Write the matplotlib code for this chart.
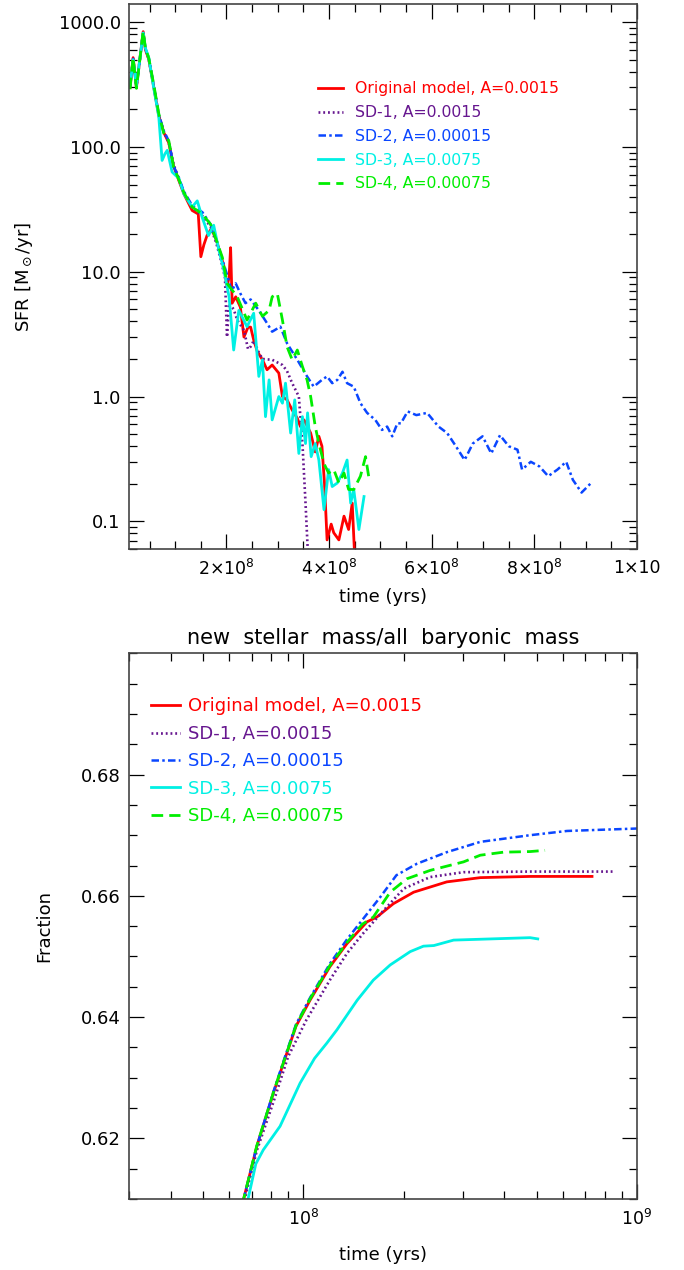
import numpy as np
import matplotlib.pyplot as plt
from matplotlib.ticker import FixedLocator, FixedFormatter, MultipleLocator, LogLocator, NullFormatter

plt.rcParams['font.family'] = ['DejaVu Sans']
plt.rcParams['mathtext.fontset'] = 'dejavusans'

# ---------------- data: SFR vs time (time in 1e8 yr) ----------------
t_red = [0.12, 0.18, 0.245, 0.376, 0.42, 0.485, 0.58, 0.68, 0.78, 0.875, 0.97, 1.07, 1.17, 1.33, 1.45, 1.50,
         1.56, 1.62, 1.70, 1.79, 1.88, 1.95, 2.01, 2.05, 2.08, 2.11, 2.18, 2.27, 2.34, 2.42, 2.47, 2.53, 2.60,
         2.70, 2.79, 2.89, 3.02, 3.09, 3.18, 3.28, 3.38, 3.44, 3.51, 3.64, 3.73, 3.80, 3.86, 3.91, 3.96, 4.04,
         4.09, 4.19, 4.29, 4.38, 4.45, 4.50]
sfr_red = [300, 520, 300, 840, 600, 505, 305, 178, 130, 108, 70, 54, 42, 31, 29, 13.2, 16.5, 19.5, 22, 18.7,
           14, 11, 7.6, 9, 15.6, 5.6, 6.3, 5.2, 3.0, 3.6, 3.6, 2.84, 2.3, 1.97, 1.64, 1.79, 1.54, 1.0, 0.94, 0.78,
           0.67, 0.575, 0.65, 0.51, 0.36, 0.48, 0.40, 0.2, 0.071, 0.095, 0.081, 0.071, 0.11, 0.086, 0.14, 0.05]

t_pur = [0.12, 0.18, 0.245, 0.376, 0.42, 0.485, 0.58, 0.68, 0.78, 0.875, 0.97, 1.07, 1.17, 1.33, 1.53, 1.69,
         1.80, 1.90, 1.97, 2.01, 2.05, 2.14, 2.21, 2.34, 2.42, 2.47, 2.53, 2.62, 2.70, 2.89, 3.09, 3.18, 3.28,
         3.41, 3.48, 3.54, 3.58, 3.61]
sfr_pur = [300, 510, 300, 830, 610, 505, 310, 180, 132, 108, 72, 56, 43, 33, 28, 23, 17, 12, 9, 3.0, 5.6, 5.0,
           4.1, 3.4, 2.4, 2.51, 2.8, 2.3, 2.0, 1.97, 1.79, 1.6, 1.28, 1.0, 0.42, 0.14, 0.063, 0.05]

t_blu = [0.12, 0.18, 0.245, 0.376, 0.42, 0.485, 0.58, 0.68, 0.78, 0.875, 0.97, 1.07, 1.17, 1.33, 1.53, 1.69,
         1.80, 1.92, 2.01, 2.10, 2.18, 2.27, 2.37, 2.47, 2.63, 2.79, 2.89, 3.05, 3.18, 3.38, 3.57, 3.70, 3.86,
         3.96, 4.06, 4.16, 4.26, 4.35, 4.48, 4.61, 4.74, 4.90, 5.03, 5.13, 5.23, 5.33, 5.40, 5.53, 5.70, 5.91,
         6.13, 6.30, 6.47, 6.64, 6.80, 6.99, 7.16, 7.33, 7.50, 7.67, 7.76, 7.93, 8.10, 8.27, 8.45, 8.62, 8.75,
         8.92, 9.09]
sfr_blu = [305, 505, 305, 825, 615, 515, 315, 182, 134, 112, 70, 57, 44, 34, 30, 24, 18, 12.5, 9.5, 7.0, 8.07,
           6.7, 5.6, 6.0, 4.9, 3.87, 3.31, 3.63, 2.67, 1.97, 1.45, 1.2, 1.36, 1.45, 1.28, 1.36, 1.58, 1.28, 1.2,
           0.885, 0.74, 0.65, 0.54, 0.575, 0.48, 0.61, 0.61, 0.76, 0.71, 0.74, 0.575, 0.51, 0.40, 0.31, 0.42,
           0.48, 0.35, 0.49, 0.40, 0.375, 0.26, 0.30, 0.275, 0.23, 0.26, 0.30, 0.215, 0.17, 0.20]

t_cya = [0.12, 0.18, 0.245, 0.376, 0.42, 0.485, 0.58, 0.68, 0.745, 0.80, 0.845, 0.94, 1.07, 1.17, 1.33, 1.43,
         1.53, 1.65, 1.75, 1.85, 1.95, 2.05, 2.14, 2.24, 2.40, 2.53, 2.63, 2.70, 2.76, 2.83, 2.89, 3.02, 3.09,
         3.15, 3.25, 3.33, 3.41, 3.48, 3.54, 3.58, 3.65, 3.73, 3.80, 3.90, 3.99, 4.06, 4.16, 4.26, 4.35, 4.42,
         4.48, 4.58, 4.68]
sfr_cya = [310, 500, 310, 820, 620, 520, 300, 175, 78, 88, 94, 63, 56, 42, 33, 37, 27, 19.5, 23.6, 15, 10.3,
           6.3, 2.36, 4.9, 3.63, 4.65, 1.45, 1.97, 0.69, 1.36, 0.65, 1.0, 0.885, 1.28, 0.51, 0.94, 0.35, 0.69,
           0.42, 0.74, 0.33, 0.42, 0.31, 0.124, 0.26, 0.19, 0.203, 0.244, 0.31, 0.14, 0.18, 0.086, 0.158]

t_grn = [0.12, 0.18, 0.245, 0.376, 0.42, 0.485, 0.58, 0.68, 0.78, 0.875, 0.97, 1.07, 1.17, 1.33, 1.53, 1.69,
         1.80, 1.92, 2.01, 2.21, 2.40, 2.57, 2.70, 2.83, 2.89, 2.99, 3.09, 3.18, 3.28, 3.38, 3.48, 3.57, 3.64,
         3.73, 3.80, 3.90, 3.99, 4.09, 4.19, 4.29, 4.38, 4.48, 4.61, 4.71, 4.77]
sfr_grn = [290, 520, 295, 845, 620, 515, 320, 185, 128, 112, 69, 55, 43, 33, 29, 24, 18, 13, 8.07, 6.3, 4.1,
           5.6, 4.4, 4.9, 6.3, 6.7, 4.1, 2.51, 1.97, 2.36, 1.74, 1.36, 1.0, 0.575, 0.42, 0.29, 0.244, 0.26,
           0.203, 0.244, 0.18, 0.18, 0.23, 0.33, 0.23]

# ---------------- data: mass fraction vs time (time in 1e8 yr) ----------------
tf_red = [0.655, 0.725, 0.813, 0.881, 0.95, 1.047, 1.20, 1.35, 1.55, 1.66, 1.86, 2.14, 2.69, 3.39, 4.78, 7.33]
f_red = [0.609, 0.6187, 0.6275, 0.6332, 0.6385, 0.6428, 0.6483, 0.6521, 0.6557, 0.6565, 0.6587, 0.6606,
         0.6623, 0.6630, 0.6632, 0.6632]

tf_pur = [0.66, 0.725, 0.813, 0.90, 1.02, 1.20, 1.35, 1.51, 1.74, 2.0, 2.4, 3.02, 4.78, 8.47]
f_pur = [0.609, 0.618, 0.626, 0.6335, 0.6395, 0.6461, 0.6505, 0.6538, 0.6576, 0.6612, 0.6631, 0.6639,
         0.6640, 0.6640]

tf_blu = [0.655, 0.725, 0.813, 0.881, 0.95, 1.047, 1.20, 1.35, 1.51, 1.70, 1.90, 2.19, 2.69, 3.39, 4.78, 6.17, 10.0]
f_blu = [0.609, 0.6187, 0.6277, 0.6335, 0.6388, 0.6432, 0.6488, 0.6528, 0.6562, 0.6598, 0.6634, 0.6653,
         0.6672, 0.6689, 0.6700, 0.6707, 0.6711]

tf_cya = [0.676, 0.72, 0.758, 0.851, 0.977, 1.08, 1.175, 1.26, 1.45, 1.62, 1.82, 2.09, 2.29, 2.46, 2.82, 4.78, 5.04]
f_cya = [0.609, 0.6158, 0.6181, 0.6220, 0.6291, 0.6332, 0.6357, 0.6379, 0.6428, 0.6461, 0.6486, 0.6508,
         0.6517, 0.6518, 0.6527, 0.6531, 0.6529]

tf_grn = [0.655, 0.725, 0.813, 0.881, 0.95, 1.047, 1.20, 1.35, 1.50, 1.62, 1.82, 2.04, 2.40, 3.02, 3.39, 3.98,
          4.78, 5.30]
f_grn = [0.609, 0.6188, 0.6276, 0.6333, 0.6386, 0.6430, 0.6485, 0.6523, 0.6553, 0.6565, 0.6606, 0.6628,
         0.6642, 0.6656, 0.6667, 0.6672, 0.6673, 0.6675]

labels = ["Original model, A=0.0015", "SD-1, A=0.0015", "SD-2, A=0.00015",
          "SD-3, A=0.0075", "SD-4, A=0.00075"]
colors = ['#ff0000', '#66168f', '#0a46ff', '#00f0e4', '#00ee00']
styles = ['-', (0, (0.7, 1.1)), (0, (3, 1.3, 1, 1.3)), '-', (0, (4.2, 2.2))]
widths = [2.0, 1.9, 1.8, 2.0, 2.0]

sfr_series = [(t_red, sfr_red), (t_pur, sfr_pur), (t_blu, sfr_blu), (t_cya, sfr_cya), (t_grn, sfr_grn)]
frac_series = [(tf_red, f_red), (tf_pur, f_pur), (tf_blu, f_blu), (tf_cya, f_cya), (tf_grn, f_grn)]

sfr_ticks = [0.1, 1, 10, 100, 1000]
sfr_ticklabels = ['0.1', '1.0', '10.0', '100.0', '1000.0']
time_ticks = [2e8, 4e8, 6e8, 8e8, 1e9]
time_ticklabels = ['2×10$^8$', '4×10$^8$', '6×10$^8$', '8×10$^8$', '1×10']
frac_ticks = [0.62, 0.64, 0.66, 0.68]


def style_axes(ax):
    for s in ax.spines.values():
        s.set_color('#444444')
        s.set_linewidth(1.2)
    ax.tick_params(which='both', direction='in', top=True, right=True, width=0.9, color='black')
    ax.tick_params(which='major', length=10.5, labelsize=13, pad=6)
    ax.tick_params(which='minor', length=5.5)


fig = plt.figure(figsize=(6.84, 12.7), dpi=100)

# ---------------- top panel ----------------
ax1 = fig.add_axes([0.1886, 0.5677, 0.7427, 0.4292])
for (t, v), c, ls, lw, lab in zip(sfr_series, colors, styles, widths, labels):
    ax1.plot(np.array(t) * 1e8, v, color=c, ls=ls, lw=lw, label=lab)
ax1.set_yscale('log')
ax1.set_xlim(1e7, 1e9)
ax1.set_ylim(0.06, 1400)
ax1.yaxis.set_major_locator(FixedLocator(sfr_ticks))
ax1.yaxis.set_major_formatter(FixedFormatter(sfr_ticklabels))
ax1.yaxis.set_minor_locator(LogLocator(base=10, subs=np.arange(2, 10)))
ax1.yaxis.set_minor_formatter(NullFormatter())
ax1.xaxis.set_major_locator(FixedLocator(time_ticks))
ax1.xaxis.set_major_formatter(FixedFormatter(time_ticklabels))
ax1.xaxis.set_minor_locator(MultipleLocator(0.5e8))
style_axes(ax1)
ax1.tick_params(axis='x', which='major', labelsize=12.5, pad=7)
ax1.set_xlabel('time (yrs)', fontsize=13)
ax1.xaxis.set_label_coords(0.5, -0.072)
ax1.set_ylabel(r'SFR [M$_\odot$/yr]', fontsize=13)
ax1.yaxis.set_label_coords(-0.185, 0.5)
ax1.legend(loc='upper left', bbox_to_anchor=(0.372, 0.858), frameon=False, fontsize=11.3,
           handlelength=1.6, handletextpad=0.75, labelspacing=0.56, borderpad=0, borderaxespad=0,
           labelcolor='linecolor')

# ---------------- bottom panel ----------------
ax2 = fig.add_axes([0.1886, 0.0559, 0.7427, 0.4297])
for (t, v), c, ls, lw, lab in zip(frac_series, colors, styles, widths, labels):
    ax2.plot(np.array(t) * 1e8, v, color=c, ls=ls, lw=lw, label=lab)
ax2.set_xscale('log')
ax2.set_xlim(3e7, 1e9)
ax2.set_ylim(0.61, 0.70)
ax2.yaxis.set_major_locator(FixedLocator(frac_ticks))
ax2.yaxis.set_major_formatter(FixedFormatter(['%.2f' % v for v in frac_ticks]))
ax2.yaxis.set_minor_locator(MultipleLocator(0.005))
ax2.xaxis.set_major_locator(LogLocator(base=10))
ax2.xaxis.set_minor_locator(LogLocator(base=10, subs=np.arange(2, 10)))
ax2.xaxis.set_minor_formatter(NullFormatter())
style_axes(ax2)
ax2.tick_params(axis='x', which='major', labelsize=12.5, pad=7)
ax2.set_title('new  stellar  mass/all  baryonic  mass', fontsize=15, pad=6.5)
ax2.set_xlabel('time (yrs)', fontsize=13)
ax2.xaxis.set_label_coords(0.5, -0.086)
ax2.set_ylabel('Fraction', fontsize=13)
ax2.yaxis.set_label_coords(-0.15, 0.5)
ax2.legend(loc='upper left', bbox_to_anchor=(0.043, 0.919), frameon=False, fontsize=13,
           handlelength=1.6, handletextpad=0.45, labelspacing=0.52, borderpad=0, borderaxespad=0,
           labelcolor='linecolor')

fig.savefig('out.png', dpi=100)
